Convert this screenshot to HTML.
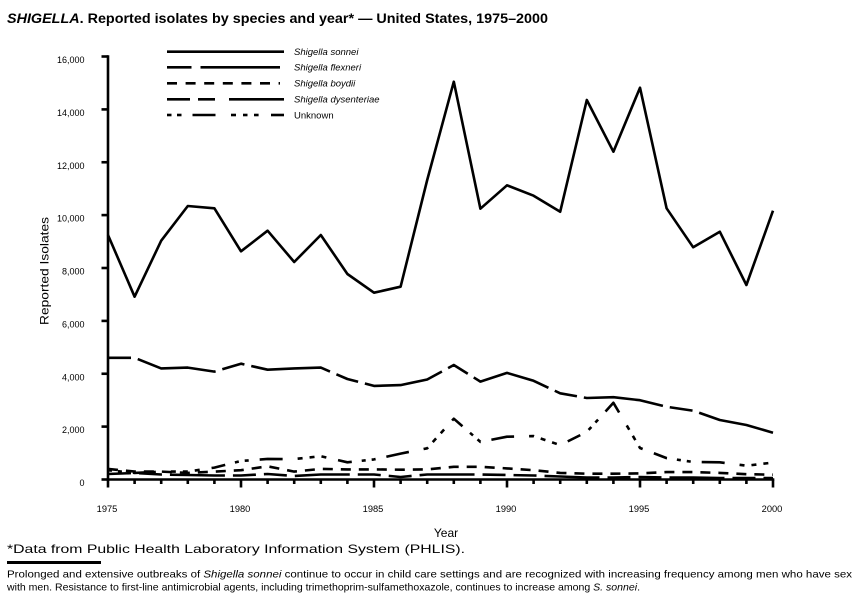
<!DOCTYPE html>
<html>
<head>
<meta charset="utf-8">
<style>
  html, body { margin: 0; padding: 0; background: #ffffff; }
  svg { display: block; }
  text { font-family: "Liberation Sans", Arial, sans-serif; fill: #000; }
</style>
</head>
<body>
<svg width="859" height="598" viewBox="0 0 859 598" xmlns="http://www.w3.org/2000/svg">
  <rect x="0" y="0" width="859" height="598" fill="#ffffff"/>

  <!-- Title -->
  <text x="7" y="23" font-size="13.5" font-weight="bold" textLength="541" lengthAdjust="spacingAndGlyphs"><tspan font-style="italic">SHIGELLA</tspan>. Reported isolates by species and year* — United States, 1975–2000</text>

  <!-- Legend -->
  <g stroke="#000" stroke-width="2.6" fill="none">
    <line x1="167" y1="51.7" x2="284" y2="51.7"/>
    <line x1="167" y1="67.3" x2="191.5" y2="67.3"/>
    <line x1="200.5" y1="67.3" x2="280" y2="67.3"/>
    <line x1="167" y1="83.3" x2="280" y2="83.3" stroke-dasharray="10 8.6"/>
    <line x1="167" y1="99.3" x2="190" y2="99.3"/>
    <line x1="198" y1="99.3" x2="215" y2="99.3"/>
    <line x1="229" y1="99.3" x2="284" y2="99.3"/>
    <line x1="167" y1="115" x2="171.5" y2="115"/>
    <line x1="177" y1="115" x2="181.5" y2="115"/>
    <line x1="192.5" y1="115" x2="215.5" y2="115"/>
    <line x1="231" y1="115" x2="236" y2="115"/>
    <line x1="243" y1="115" x2="247.5" y2="115"/>
    <line x1="254" y1="115" x2="258.6" y2="115"/>
    <line x1="271" y1="115" x2="284" y2="115"/>
  </g>
  <g font-size="9.5">
    <text x="294" y="55" font-style="italic">Shigella sonnei</text>
    <text x="294" y="70.6" font-style="italic">Shigella flexneri</text>
    <text x="294" y="86.6" font-style="italic">Shigella boydii</text>
    <text x="294" y="102.6" font-style="italic">Shigella dysenteriae</text>
    <text x="294" y="118.3">Unknown</text>
  </g>

  <!-- Y axis -->
  <g stroke="#000" stroke-width="2.6" fill="none">
    <line x1="108" y1="55.3" x2="108" y2="481"/>
    <line x1="101.5" y1="56.5" x2="108" y2="56.5"/>
    <line x1="101.5" y1="109.4" x2="108" y2="109.4"/>
    <line x1="101.5" y1="162.25" x2="108" y2="162.25"/>
    <line x1="101.5" y1="215.1" x2="108" y2="215.1"/>
    <line x1="101.5" y1="268" x2="108" y2="268"/>
    <line x1="101.5" y1="320.9" x2="108" y2="320.9"/>
    <line x1="101.5" y1="373.75" x2="108" y2="373.75"/>
    <line x1="101.5" y1="426.6" x2="108" y2="426.6"/>
    <line x1="101.5" y1="479.5" x2="108" y2="479.5"/>
  </g>
  <g font-size="9" text-anchor="end">
    <text x="84.5" y="63">16,000</text>
    <text x="84.5" y="115.9">14,000</text>
    <text x="84.5" y="168.8">12,000</text>
    <text x="84.5" y="221.6">10,000</text>
    <text x="84.5" y="274.5">8,000</text>
    <text x="84.5" y="327.4">6,000</text>
    <text x="84.5" y="380.3">4,000</text>
    <text x="84.5" y="433.1">2,000</text>
    <text x="84.5" y="486">0</text>
  </g>
  <text transform="translate(48.5,271) rotate(-90)" font-size="12" text-anchor="middle" textLength="108" lengthAdjust="spacingAndGlyphs">Reported Isolates</text>

  <!-- X axis -->
  <g stroke="#000" stroke-width="2.6" fill="none">
    <line x1="106.7" y1="479.5" x2="774.3" y2="479.5"/>
    <line x1="108" y1="479.5" x2="108" y2="487.5"/>
    <line x1="134.6" y1="479.5" x2="134.6" y2="484"/>
    <line x1="161.2" y1="479.5" x2="161.2" y2="484"/>
    <line x1="187.8" y1="479.5" x2="187.8" y2="484"/>
    <line x1="214.4" y1="479.5" x2="214.4" y2="484"/>
    <line x1="241" y1="479.5" x2="241" y2="487.5"/>
    <line x1="267.6" y1="479.5" x2="267.6" y2="484"/>
    <line x1="294.2" y1="479.5" x2="294.2" y2="484"/>
    <line x1="320.8" y1="479.5" x2="320.8" y2="484"/>
    <line x1="347.4" y1="479.5" x2="347.4" y2="484"/>
    <line x1="374" y1="479.5" x2="374" y2="487.5"/>
    <line x1="400.6" y1="479.5" x2="400.6" y2="484"/>
    <line x1="427.2" y1="479.5" x2="427.2" y2="484"/>
    <line x1="453.8" y1="479.5" x2="453.8" y2="484"/>
    <line x1="480.4" y1="479.5" x2="480.4" y2="484"/>
    <line x1="507" y1="479.5" x2="507" y2="487.5"/>
    <line x1="533.6" y1="479.5" x2="533.6" y2="484"/>
    <line x1="560.2" y1="479.5" x2="560.2" y2="484"/>
    <line x1="586.8" y1="479.5" x2="586.8" y2="484"/>
    <line x1="613.4" y1="479.5" x2="613.4" y2="484"/>
    <line x1="640" y1="479.5" x2="640" y2="487.5"/>
    <line x1="666.6" y1="479.5" x2="666.6" y2="484"/>
    <line x1="693.2" y1="479.5" x2="693.2" y2="484"/>
    <line x1="719.8" y1="479.5" x2="719.8" y2="484"/>
    <line x1="746.4" y1="479.5" x2="746.4" y2="484"/>
    <line x1="773" y1="479.5" x2="773" y2="487.5"/>
  </g>
  <g font-size="9.3" text-anchor="middle">
    <text x="107" y="512">1975</text>
    <text x="240" y="512">1980</text>
    <text x="373" y="512">1985</text>
    <text x="506" y="512">1990</text>
    <text x="639" y="512">1995</text>
    <text x="772" y="512">2000</text>
  </g>
  <text x="446" y="537" font-size="12" text-anchor="middle">Year</text>

  <!-- Series -->
  <g fill="none" stroke="#000" stroke-width="2.6" stroke-linejoin="round">
    <!-- Dysenteriae -->
    <polyline stroke-dasharray="23 8 23 8 55 8" points="108,474 134.6,473 161.2,474.5 187.8,475 214.4,475.5 241,475.5 267.6,474 294.2,476 320.8,474.5 347.4,474.5 374,474.5 400.6,477 427.2,474.5 453.8,474.5 480.4,474.5 507,475 533.6,475.5 560.2,476.5 586.8,477.5 613.4,477.5 640,477 666.6,477.5 693.2,477.5 719.8,478 746.4,478 773,478"/>
    <!-- Boydii -->
    <polyline stroke-dasharray="10 8" points="108,468.9 134.6,471.6 161.2,471.6 187.8,472.9 214.4,471.6 241,470.2 267.6,466.3 294.2,471.6 320.8,468.9 347.4,469.4 374,469.4 400.6,469.7 427.2,469.4 453.8,466.8 480.4,466.8 507,468.4 533.6,470.2 560.2,472.9 586.8,473.7 613.4,473.7 640,473.4 666.6,472.1 693.2,472.1 719.8,472.9 746.4,474.2 773,474.7"/>
    <!-- Unknown -->
    <polyline stroke-dasharray="4 6 4 11 23 15 5 7 5 7 5 12 14 10" points="108,470.2 134.6,472.9 161.2,471.6 187.8,471.6 214.4,467.6 241,461 267.6,458.9 294.2,459.1 320.8,456.2 347.4,462.3 374,459.4 400.6,453.6 427.2,448.3 453.8,418.7 480.4,441.9 507,436.7 533.6,436.1 560.2,445.1 586.8,431.9 613.4,402.8 640,448 666.6,458.1 693.2,462 719.8,462.3 746.4,465.7 773,462.6"/>
    <!-- Flexneri -->
    <polyline stroke-dasharray="23 7 80 7" points="108,357.8 134.6,357.8 161.2,368.4 187.8,367.6 214.4,371.6 241,363.7 267.6,369.7 294.2,368.4 320.8,367.6 347.4,379 374,385.9 400.6,385.1 427.2,379.5 453.8,365 480.4,381.6 507,372.9 533.6,380.8 560.2,393.3 586.8,398 613.4,397.2 640,400.2 666.6,406.8 693.2,410.7 719.8,420 746.4,425 773,432.7"/>
    <!-- Sonnei -->
    <polyline points="108,235 134.6,296.7 161.2,240.7 187.8,206 214.4,208.3 241,251.3 267.6,230.7 294.2,262 320.8,235 347.4,274 374,292.7 400.6,286.7 427.2,180 453.8,81.7 480.4,208.7 507,185.3 533.6,195.7 560.2,211.7 586.8,100 613.4,151.7 640,87.7 666.6,208.3 693.2,247.3 719.8,231.7 746.4,285 773,210.7"/>
  </g>

  <!-- Footnotes -->
  <text x="7" y="553" font-size="12" textLength="458" lengthAdjust="spacingAndGlyphs">*Data from Public Health Laboratory Information System (PHLIS).</text>
  <rect x="7" y="561" width="94" height="3" fill="#000"/>
  <text x="7" y="577.5" font-size="10.5" textLength="845" lengthAdjust="spacingAndGlyphs">Prolonged and extensive outbreaks of <tspan font-style="italic">Shigella sonnei</tspan>  continue to occur in child care settings and are recognized with increasing frequency among men who have sex</text>
  <text x="7" y="590.5" font-size="10.5" textLength="633" lengthAdjust="spacingAndGlyphs">with men. Resistance to first-line antimicrobial agents, including trimethoprim-sulfamethoxazole, continues to increase among <tspan font-style="italic">S. sonnei</tspan>.</text>
</svg>
</body>
</html>
